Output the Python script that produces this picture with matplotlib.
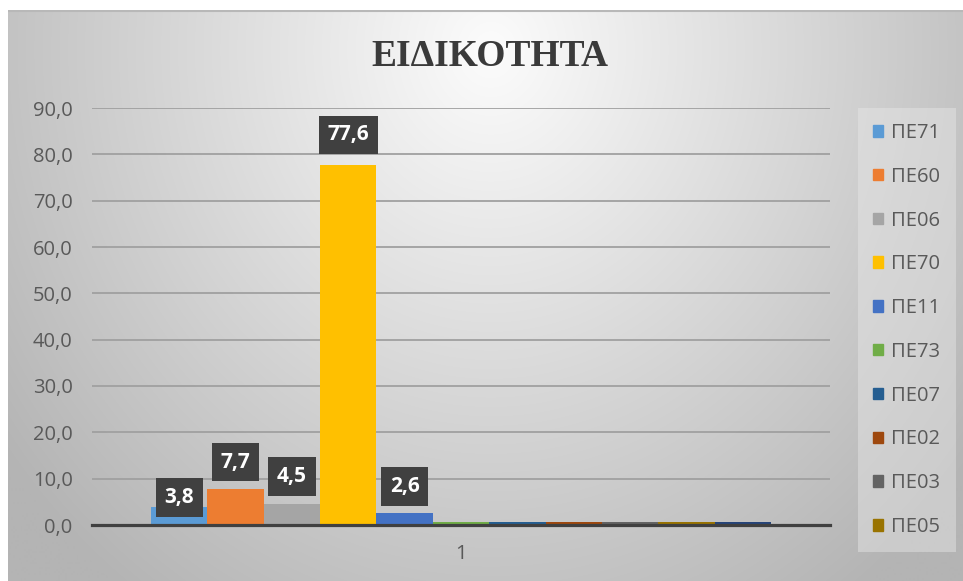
import numpy as np
import matplotlib.pyplot as plt
from matplotlib.patches import Rectangle

# Specialty shares (%) for the single category "1"
categories = ['1']
series_names = ['ΠΕ71', 'ΠΕ60', 'ΠΕ06', 'ΠΕ70', 'ΠΕ11',
                'ΠΕ73', 'ΠΕ07', 'ΠΕ02', 'ΠΕ03', 'ΠΕ05']
values = [3.8, 7.7, 4.5, 77.6, 2.6, 0.6, 0.6, 0.6, 0.6, 0.6, 0.6]
labelled = [True, True, True, True, True, False, False, False, False, False, False]
colors = ['#5B9BD5', '#ED7D31', '#A5A5A5', '#FFC000', '#4472C4', '#70AD47',
          '#255E91', '#9E480E', '#636363', '#997300', '#264478']
# vertical offset of each value box centre above its bar (points)
label_offsets = [7, 19.5, 20, 22, 19]

W, H = 963, 581
fig = plt.figure(figsize=(W / 100, H / 100), dpi=100)

# chart area background: soft radial gradient, white margin outside
bg = fig.add_axes([8 / W, 0, 1 - 8 / W, 1 - 10 / H])
bg.set_axis_off()
yy, xx = np.mgrid[0:571, 0:955]
r = np.sqrt(((xx - 482) / 540.0) ** 2 + ((yy - 40) / 600.0) ** 2)
shade = np.clip(252 - 64 * r, 180, 252) / 255.0
bg.imshow(np.dstack([shade] * 3), aspect='auto', interpolation='bilinear')
bg.plot([0, 954], [0.5, 0.5], color='#b8b8b8', lw=1.5)
bg.set_xlim(0, 954)
bg.set_ylim(570, 0)

ax = fig.add_axes([92 / W, 1 - 525 / H, (830 - 92) / W, (525 - 108) / H])
ax.set_facecolor('none')

n = len(values)
group = 0.84
bw = group / n
xs = -group / 2 + bw * (np.arange(n) + 0.5)

bars = ax.bar(xs, values, width=bw, color=colors, zorder=3)

for x, v, show, off in zip(xs, values, labelled, label_offsets + [0] * n):
    if not show:
        continue
    ax.annotate(f'{v:.1f}'.replace('.', ','), (x, v), xytext=(0, off),
                textcoords='offset points', ha='center', va='center',
                fontsize=15, fontweight='bold', color='white',
                family='Open Sans', zorder=5,
                bbox=dict(boxstyle='square,pad=0.42', fc='#404040', ec='none'))

ax.set_xlim(-0.5, 0.5)
ax.set_ylim(0, 90)
ax.set_yticks(np.arange(0, 91, 10))
ax.set_yticklabels([f'{t:.1f}'.replace('.', ',') for t in np.arange(0, 91, 10)])
ax.set_xticks([0])
ax.set_xticklabels(categories)
ax.tick_params(axis='both', length=0, labelsize=14.5, labelcolor='#595959')
ax.tick_params(axis='y', pad=14)
ax.tick_params(axis='x', pad=14)
for lab in ax.get_xticklabels() + ax.get_yticklabels():
    lab.set_family('Open Sans')
ax.grid(axis='y', color='#a0a0a0', lw=1.3, zorder=0)
for s in ['left', 'right', 'top']:
    ax.spines[s].set_visible(False)
ax.spines['bottom'].set_color('#404040')
ax.spines['bottom'].set_linewidth(2.3)
ax.spines['bottom'].set_zorder(4)

fig.text(490 / W, 1 - 57 / H, 'ΕΙΔΙΚΟΤΗΤΑ', ha='center', va='center',
         fontsize=27, fontweight='bold', family='Liberation Serif', color='#3a3a3a')

handles = [Rectangle((0, 0), 1, 1, color=c) for c in colors[:len(series_names)]]
leg = fig.legend(handles, series_names, loc='upper left',
                 bbox_to_anchor=(864 / W, 1 - 114 / H), frameon=True,
                 prop={'family': 'Open Sans', 'size': 14.5}, labelcolor='#595959',
                 handlelength=0.5, handleheight=0.5, handletextpad=0.4,
                 labelspacing=1.18, borderaxespad=0, borderpad=0.45)
leg.get_frame().set_facecolor('#e8e8e8')
leg.get_frame().set_alpha(0.45)
leg.get_frame().set_edgecolor('none')
leg.get_frame().set_boxstyle('square')

fig.savefig('out.png', dpi=100)
